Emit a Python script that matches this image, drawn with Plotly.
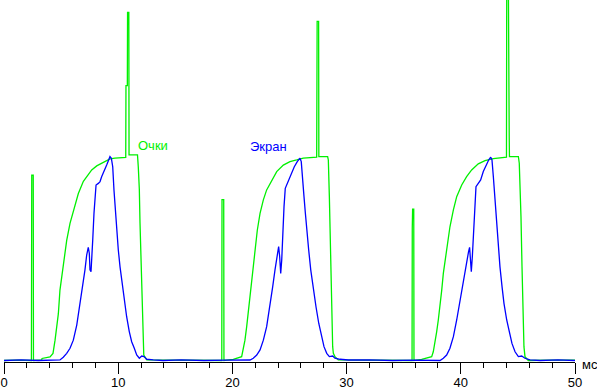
import plotly.graph_objects as go

# ---- data (time in ms, brightness in arbitrary units, plateau ~100) ----
green_t = [0, 1.2, 2.40, 2.41, 2.43, 2.56, 2.58, 3.3, 3.33, 4.03, 4.29, 4.47, 4.76, 4.90, 5.05, 5.34, 5.49,
           5.78, 5.93, 6.22, 6.51, 6.95, 7.24, 7.68, 8.12, 8.70, 9.28, 9.72, 10.66, 10.68, 10.80, 10.82,
           10.93, 10.95, 11.69, 11.76, 11.85, 11.91, 12.06, 12.14, 12.20, 12.24, 12.50, 14.0, 16.0, 18.0,
           19.07, 19.09, 19.24, 19.26, 19.94, 20.08, 20.81, 20.95, 21.10, 21.25, 21.39, 21.54, 21.69,
           21.83, 21.98, 22.18, 22.42, 22.71, 23.00, 23.44, 23.88, 24.46, 25.04, 25.63, 26.21, 27.38,
           27.40, 27.42, 27.55, 27.57, 28.34, 28.40, 28.49, 28.55, 28.63, 28.72, 28.78, 28.84, 28.98,
           29.27, 31.0, 33.0, 35.0, 35.73, 35.75, 35.78, 35.88, 35.90, 36.57, 37.45, 37.59, 37.74, 37.89,
           38.03, 38.18, 38.33, 38.47, 38.76, 39.05, 39.35, 39.64, 40.08, 40.51, 40.95, 41.53, 42.12,
           42.85, 44.00, 44.02, 44.17, 44.19, 44.24, 44.26, 45.04, 45.12, 45.18, 45.27, 45.36, 45.45,
           45.53, 45.62, 45.91, 48.0, 50.0]
green_v = [0, 0.2, 0, 44, 91, 91, 0, 0.3, 1.0, 1.8, 3.5, 10, 23, 34.6, 41, 54, 59,
           67.4, 70.7, 77, 82, 88, 90.3, 93.6, 95.6, 97.2, 99, 99.4, 99.8, 135, 135, 171,
           171, 101, 101, 95, 84, 67.5, 34.6, 18.4, 8.6, 2.7, 0.3, 0.2, 0, 0.2,
           0, 79, 79, 0, 0.3, 0.6, 1.9, 5.2, 10, 16.6, 24, 33, 41.2,
           47.8, 56, 64, 72.3, 78.9, 83.8, 88.7, 92.8, 96, 97.7, 98.5, 99.4, 99.9,
           120, 166.6, 166.6, 100.2, 100.2, 98.5, 80.5, 64, 39.6, 18.3, 6.8, 3.5, 1.9,
           0.3, 0.2, 0, 0.2, 0, 65, 74.3, 74.3, 0, 0.6, 1.9, 4.3, 8.4, 14.2,
           19.9, 26.4, 34.6, 42.8, 54.3, 65.7, 74, 80.5, 86.2, 90.3, 93.6, 96.6, 98.2,
           99.2, 99.9, 180, 180, 110, 110, 100.2, 100.2, 96.9, 87, 70.7, 46, 21.5,
           6.8, 1.9, 0, 0.2, 0.2]

blue_t = [0, 1.5, 3.0, 4.61, 4.90, 5.19, 5.49, 5.78, 6.07, 6.37, 6.65, 6.89, 7.09, 7.24, 7.38, 7.47,
          7.53, 7.62, 7.68, 7.77, 7.88, 7.97, 8.06, 8.26, 8.41, 8.55, 8.76, 8.99, 9.19, 9.28, 9.40,
          9.52, 9.63, 9.75, 9.87, 10.01, 10.16, 10.33, 10.54, 10.74, 10.97, 11.18, 11.41, 11.62,
          11.85, 12.06, 12.26, 12.50, 13.07, 13.92, 15.5, 17.5, 19.5, 21.25, 21.54, 21.83, 22.13,
          22.42, 22.71, 23.00, 23.29, 23.53, 23.73, 23.93, 24.05, 24.14, 24.23, 24.32, 24.40, 24.52,
          24.63, 24.81, 24.98, 25.19, 25.42, 25.68, 25.92, 26.03, 26.16, 26.27, 26.39, 26.51, 26.68,
          26.86, 27.09, 27.32, 27.56, 27.79, 28.02, 28.26, 28.49, 28.78, 28.98, 29.42, 30.15, 32.0,
          34.0, 36.0, 37.89, 38.18, 38.47, 38.76, 39.05, 39.35, 39.64, 39.93, 40.22, 40.51, 40.68,
          40.77, 40.86, 40.92, 41.01, 41.10, 41.22, 41.33, 41.53, 41.74, 41.97, 42.21, 42.44, 42.62,
          42.73, 42.85, 42.97, 43.08, 43.20, 43.32, 43.43, 43.61, 43.78, 44.02, 44.25, 44.48, 44.75,
          45.04, 45.33, 45.62, 46.06, 46.94, 48.5, 50.0]
blue_v = [0, 0.3, 0, 0, 0.25, 1.6, 3.5, 6, 10, 17.4, 27.3, 36.3, 44.5, 51.8, 55.6, 52.7,
          44.5, 43.6, 52.8, 59.2, 72.3, 80.5, 86.2, 87, 87.9, 90.3, 92.8, 96, 98.9, 100.2, 99.4,
          95.2, 83.8, 74, 64, 54.3, 46, 38, 29.7, 21.5, 14.2, 9.2, 6, 2.7,
          1.1, 2.2, 1.9, 0.6, 0.3, 0, 0.3, 0, 0.2, 0, 0.25, 1.1, 2.7,
          5.2, 10, 16.6, 26.4, 36.3, 44.5, 52.7, 56, 51, 42.8, 49.4, 64, 75.6,
          84.6, 87, 88.7, 92, 95.2, 97.7, 99.4, 97.7, 90.3, 80.5, 72.3, 64, 54.3,
          44.5, 34.6, 26.4, 18.3, 11.7, 6.8, 3.5, 1.9, 2.2, 1.1, 0.6, 0.25, 0.3,
          0, 0.2, 0, 0, 1.1, 2.7, 6, 11.7, 19.9, 29.7, 39.6, 47.8, 53.5,
          55.6, 47.8, 43.6, 51, 62.5, 75.6, 85.4, 87, 88.7, 92.8, 96, 98.5, 99.9,
          98.5, 90.3, 80.5, 72.3, 64, 54.3, 46, 36.3, 28.1, 19.9, 13.4, 8.4, 4.3,
          1.9, 2.2, 1.1, 0.25, 0, 0.3, 0]

tick_vals = [0, 10, 20, 30, 40, 50]
tick_text = ["0", "10", "20", "30", "40", "50"]
label_glasses = "Очки"
label_screen = "Экран"
unit_label = "мс"

GREEN = "#00f000"
BLUE = "#0000ff"
FONT = "Liberation Sans, Arial, sans-serif"

fig = go.Figure()
fig.add_trace(go.Scatter(x=green_t, y=green_v, mode="lines",
                         line=dict(color=GREEN, width=1.3), hoverinfo="skip"))
fig.add_trace(go.Scatter(x=blue_t, y=blue_v, mode="lines",
                         line=dict(color=BLUE, width=1.3), hoverinfo="skip"))

fig.add_annotation(x=13.05, y=105.4, text=label_glasses, showarrow=False,
                   font=dict(color=GREEN, size=13, family=FONT), xanchor="center", yanchor="middle")
fig.add_annotation(x=23.12, y=104.9, text=label_screen, showarrow=False,
                   font=dict(color=BLUE, size=13, family=FONT), xanchor="center", yanchor="middle")
fig.add_annotation(xref="paper", yref="paper", x=1, y=0, xshift=5, yshift=-2, text=unit_label,
                   showarrow=False, font=dict(color="black", size=13, family=FONT),
                   xanchor="left", yanchor="middle")

fig.update_layout(
    template="none",
    width=597, height=388,
    margin=dict(l=4, r=22, t=0, b=26, pad=0),
    paper_bgcolor="white", plot_bgcolor="white",
    showlegend=False,
    font=dict(family=FONT, size=13, color="black"),
    xaxis=dict(range=[0, 50], automargin=False, showgrid=False, zeroline=False, showline=True,
               linecolor="black", linewidth=1, ticks="outside", ticklen=11,
               tickwidth=1, tickcolor="black", tickvals=tick_vals, ticktext=tick_text,
               tickfont=dict(size=13, family=FONT, color="black"), ticklabelstandoff=-3,
               minor=dict(dtick=2, tick0=0, ticks="outside", ticklen=5,
                          tickwidth=1, tickcolor="black", showgrid=False)),
    yaxis=dict(range=[-0.74, 177.1], visible=False, automargin=False,
               showgrid=False, zeroline=False),
)

fig.write_html("out.html", config={"displayModeBar": False},
               post_script="document.body.style.margin='0';document.body.style.overflow='hidden';")
